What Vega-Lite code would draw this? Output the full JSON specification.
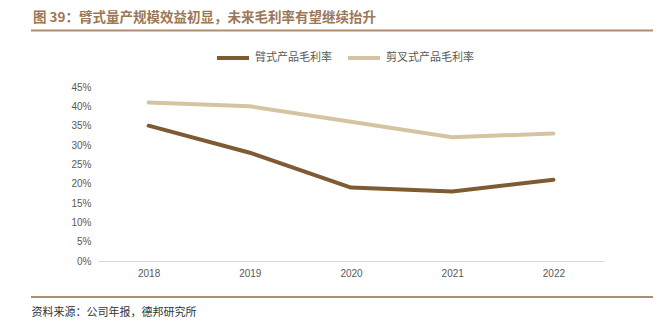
{
  "$schema": "https://vega.github.io/schema/vega-lite/v6.json",
  "autosize": {"type": "none"},
  "width": 506,
  "height": 174,
  "padding": {"left": 98, "top": 87, "right": 63, "bottom": 62},
  "background": "white",
  "config": {
    "view": {"stroke": null},
    "font": "Noto Sans CJK SC"
  },
  "title": {
    "text": "图 39：臂式量产规模效益初显，未来毛利率有望继续抬升",
    "anchor": "start",
    "frame": "group",
    "dx": -65,
    "dy": 15,
    "offset": 6,
    "baseline": "bottom",
    "fontSize": 13.5,
    "fontWeight": "bold",
    "color": "#9B7755",
    "font": "Noto Sans CJK SC"
  },
  "datasets": {
    "margins": [
      {"year": "2018", "series": "臂式产品毛利率", "value": 0.35},
      {"year": "2019", "series": "臂式产品毛利率", "value": 0.28},
      {"year": "2020", "series": "臂式产品毛利率", "value": 0.19},
      {"year": "2021", "series": "臂式产品毛利率", "value": 0.18},
      {"year": "2022", "series": "臂式产品毛利率", "value": 0.21},
      {"year": "2018", "series": "剪叉式产品毛利率", "value": 0.41},
      {"year": "2019", "series": "剪叉式产品毛利率", "value": 0.40},
      {"year": "2020", "series": "剪叉式产品毛利率", "value": 0.36},
      {"year": "2021", "series": "剪叉式产品毛利率", "value": 0.32},
      {"year": "2022", "series": "剪叉式产品毛利率", "value": 0.33}
    ],
    "rules": [
      {"name": "title line", "pos": 0.596},
      {"name": "footer line", "pos": -0.093}
    ]
  },
  "encoding": {
    "y": {
      "type": "quantitative",
      "scale": {"domain": [0, 0.45], "nice": false},
      "axis": {
        "format": ".0%",
        "values": [0, 0.05, 0.1, 0.15, 0.2, 0.25, 0.3, 0.35, 0.4, 0.45],
        "labelOverlap": false,
        "grid": false,
        "domain": false,
        "ticks": false,
        "labelFontSize": 10,
        "labelColor": "#595959",
        "labelFont": "Liberation Sans",
        "labelPadding": 7,
        "title": null
      }
    }
  },
  "layer": [
    {
      "data": {"name": "margins"},
      "mark": {"type": "line", "strokeWidth": 4, "strokeCap": "round", "strokeJoin": "round"},
      "encoding": {
        "x": {
          "field": "year",
          "type": "ordinal",
          "scale": {"paddingInner": 0, "paddingOuter": 0},
          "axis": {
            "labelAngle": 0,
            "labelFontSize": 10,
            "labelColor": "#595959",
            "labelFont": "Liberation Sans",
            "ticks": false,
            "labelPadding": 7,
            "domainColor": "#D9D9D9",
            "domainWidth": 1,
            "title": "资料来源：公司年报，德邦研究所",
            "titleFont": "Noto Sans CJK SC",
            "titleFontSize": 11,
            "titleFontWeight": "normal",
            "titleColor": "#333333",
            "titleAlign": "left",
            "titleAnchor": "start",
            "titleX": -67,
            "titleY": 51,
            "titleBaseline": "middle"
          }
        },
        "y": {"field": "value"},
        "color": {
          "field": "series",
          "type": "nominal",
          "scale": {"domain": ["臂式产品毛利率", "剪叉式产品毛利率"], "range": ["#7F5B33", "#D5C4A1"]},
          "legend": {
            "title": null,
            "orient": "none",
            "direction": "horizontal",
            "legendX": 117,
            "legendY": -47,
            "symbolType": "stroke",
            "symbolSize": 1024,
            "symbolStrokeWidth": 4,
            "labelFontSize": 11,
            "labelColor": "#595959",
            "labelFont": "Noto Sans CJK SC",
            "labelOffset": 4,
            "columnPadding": 8
          }
        }
      }
    },
    {
      "data": {"name": "rules"},
      "mark": {"type": "rule", "strokeWidth": 2, "color": "#B08D6E", "clip": false},
      "encoding": {
        "y": {"field": "pos"},
        "x": {"value": -67},
        "x2": {"value": 555}
      }
    }
  ]
}
